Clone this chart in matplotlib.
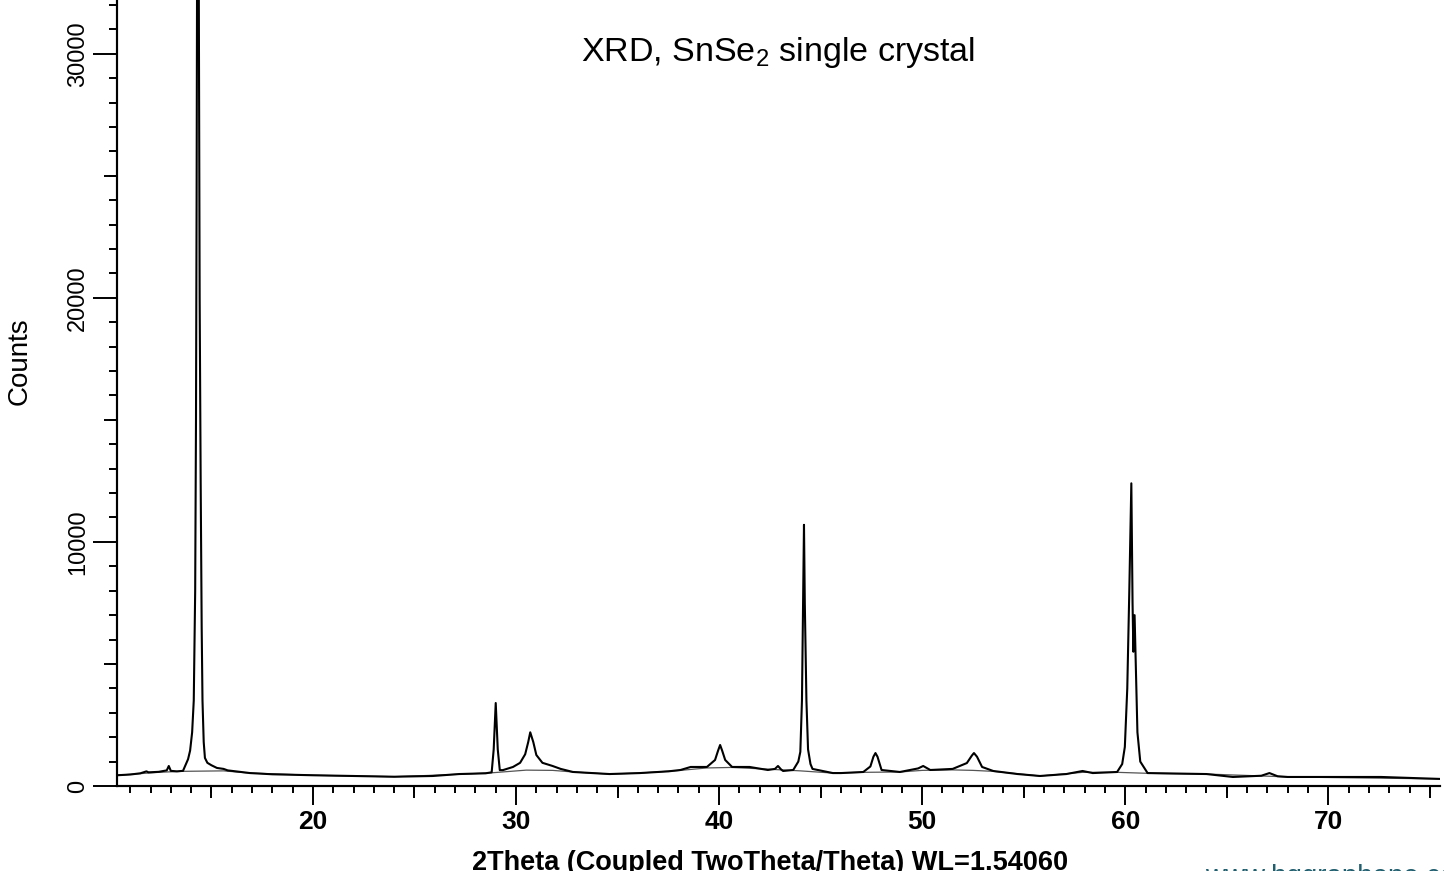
import matplotlib
matplotlib.use('Agg')
import matplotlib.pyplot as plt

plt.rcParams['font.family'] = ['Liberation Sans', 'DejaVu Sans']
plt.rcParams['mathtext.fontset'] = 'custom'
plt.rcParams['mathtext.rm'] = 'Liberation Sans'
plt.rcParams['mathtext.it'] = 'Liberation Sans'

two_theta = [10.35, 11.0, 11.5, 11.8, 11.9, 12.4, 12.8, 12.9, 13.0, 13.3,
             13.6, 13.85, 13.95, 14.05, 14.13, 14.2, 14.24, 14.27, 14.3, 14.34,
             14.38, 14.42, 14.47, 14.52, 14.56, 14.62, 14.68, 14.8, 15.0, 15.27,
             15.6, 15.8, 16.9, 18.0, 20.0, 22.7, 24.0, 25.9, 27.2, 28.5,
             28.8, 28.9, 29.0, 29.1, 29.2, 29.35, 29.85, 30.2, 30.45, 30.6,
             30.7, 30.85, 31.0, 31.3, 31.8, 32.2, 32.8, 33.8, 34.6, 36.1,
             37.5, 38.1, 38.6, 39.4, 39.8, 39.95, 40.05, 40.15, 40.3, 40.64,
             41.5, 42.4, 42.75, 42.9, 43.05, 43.15, 43.65, 43.9, 44.0, 44.08,
             44.13, 44.18, 44.22, 44.25, 44.3, 44.38, 44.5, 44.6, 45.6, 46.0,
             47.1, 47.45, 47.6, 47.7, 47.8, 48.0, 48.9, 49.4, 49.8, 50.05,
             50.3, 50.4, 51.5, 52.2, 52.45, 52.55, 52.7, 52.95, 53.5, 54.7,
             55.8, 57.1, 57.9, 58.4, 59.6, 59.85, 59.98, 60.1, 60.2, 60.3,
             60.36, 60.4, 60.46, 60.52, 60.6, 60.74, 61.1, 64.0, 65.3, 66.7,
             67.1, 67.5, 68.0, 72.6, 75.5]
counts = [440, 470, 520, 600, 560, 580, 640, 820, 620, 600,
          620, 1100, 1450, 2200, 3500, 8000, 15000, 24000, 36000, 44000,
          32000, 20000, 12500, 6500, 3500, 1800, 1150, 950, 850, 740,
          700, 640, 530, 480, 440, 400, 380, 410, 490, 520,
          560, 1500, 3400, 1500, 650, 650, 780, 950, 1300, 1800,
          2200, 1800, 1270, 950, 820, 700, 575, 530, 490, 530,
          600, 656, 780, 780, 1066, 1450, 1680, 1450, 1066, 780,
          780, 656, 700, 820, 680, 615, 656, 1000, 1400, 3500,
          7000, 10700, 7500, 6000, 3500, 1500, 900, 700, 530, 530,
          574, 800, 1200, 1350, 1200, 656, 574, 656, 720, 820,
          700, 656, 700, 940, 1250, 1350, 1200, 780, 615, 490,
          410, 490, 615, 530, 574, 900, 1600, 4000, 8000, 12400,
          7500, 5500, 7000, 5000, 2200, 1000, 530, 490, 370, 420,
          530, 400, 370, 370, 290]

# fitted background line
bg_theta = [10.35, 12.4, 13.5, 15.6, 16.9, 20.0, 24.0, 27.2, 28.8, 30.5,
            31.8, 32.8, 34.6, 36.1, 38.1, 39.4, 40.6, 42.4, 44.0, 45.6,
            47.1, 48.9, 50.0, 51.5, 52.5, 53.5, 55.8, 57.9, 59.6, 61.1,
            64.0, 67.1, 68.0, 75.5]
bg_counts = [440, 560, 600, 620, 530, 440, 380, 480, 540, 650,
             640, 575, 490, 530, 640, 740, 760, 690, 620, 530,
             560, 574, 640, 660, 640, 600, 410, 560, 560, 520,
             490, 400, 370, 290]

fig = plt.figure(figsize=(14.44, 8.71), dpi=100)
ax = fig.add_axes([117/1444, 1-786/871, (1440-117)/1444, 786/871])

ax.plot(bg_theta, bg_counts, color='#555555', lw=0.9)
ax.plot(two_theta, counts, color='black', lw=1.5)

ax.set_xlim(10.35, 75.5)
ax.set_ylim(0, 32200)

for s in ['top', 'right']:
    ax.spines[s].set_visible(False)
for s in ['left', 'bottom']:
    ax.spines[s].set_linewidth(1.5)

# major / minor ticks
ax.set_xticks([20, 30, 40, 50, 60, 70])
ax.set_xticks(range(11, 76), minor=True)
ax.set_yticks([0, 10000, 20000, 30000])
ax.set_yticks(range(0, 32001, 1000), minor=True)
ax.tick_params(axis='x', which='major', direction='out', length=14, width=1.4,
               labelsize=19, pad=3)
ax.tick_params(axis='x', which='minor', direction='out', length=5, width=1.4)
ax.tick_params(axis='y', which='major', direction='out', length=17, width=1.4,
               labelsize=17, pad=3, labelrotation=90)
ax.tick_params(axis='y', which='minor', direction='out', length=5.8, width=1.4)
for lbl in ax.get_xticklabels():
    lbl.set_fontweight('bold')
for lbl in ax.get_yticklabels():
    lbl.set_va('center')

# medium ticks at the 5s
secx = ax.secondary_xaxis('bottom')
secx.set_xticks([15, 25, 35, 45, 55, 65, 75])
secx.tick_params(direction='out', length=8.5, width=1.4, labelbottom=False)
secx.spines['bottom'].set_linewidth(1.5)
secy = ax.secondary_yaxis('left')
secy.set_yticks([5000, 15000, 25000])
secy.tick_params(direction='out', length=9.4, width=1.4, labelleft=False)
secy.spines['left'].set_linewidth(1.5)

fig.text(778/1444, 1-53/871, r'XRD, SnSe$_2$ single crystal', fontsize=24.5,
         ha='center', va='center')
fig.text(20/1444, 1-361/871, 'Counts', fontsize=20, rotation=90,
         ha='center', va='center')
fig.text(770/1444, 1/871, '2Theta (Coupled TwoTheta/Theta) WL=1.54060',
         fontsize=19.5, fontweight='bold', ha='center', va='baseline')
fig.text(1205/1444, -13/871, 'www.hqgraphene.com', fontsize=20,
         color='#1f5f6f', ha='left', va='baseline')

fig.savefig('out.png', dpi=100)
